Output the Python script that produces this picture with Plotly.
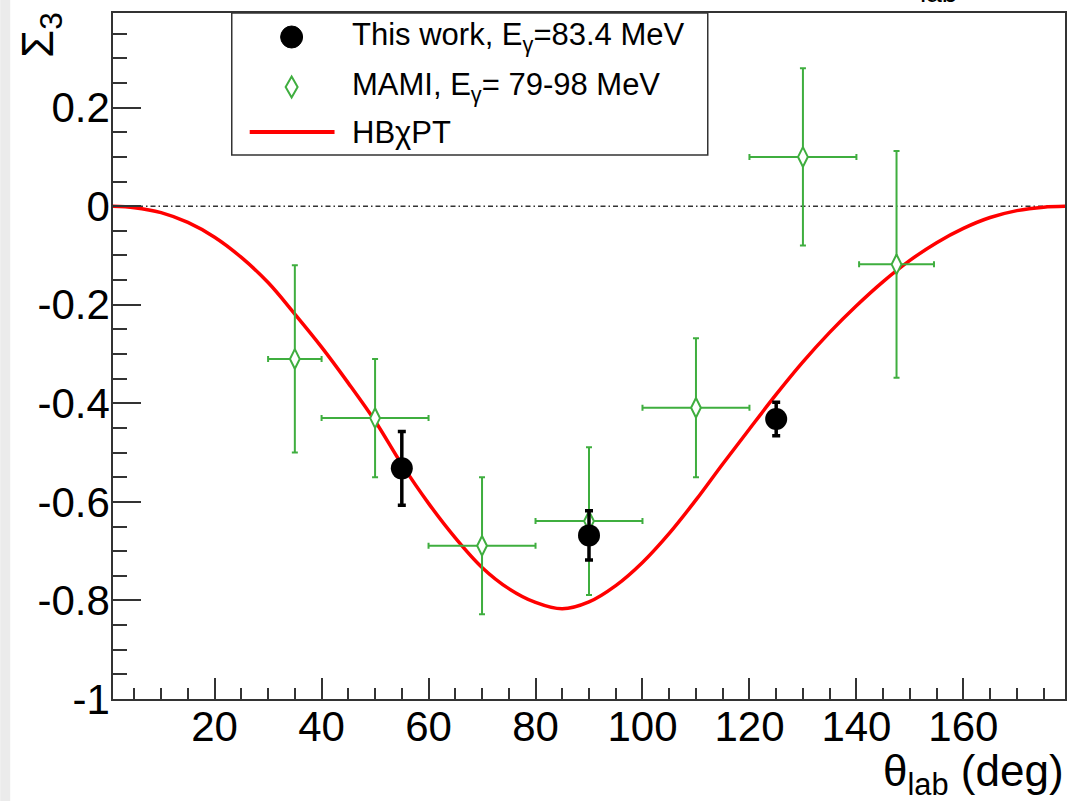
import plotly.graph_objects as go

# ---- data -------------------------------------------------------------
# This work, E_gamma = 83.4 MeV
work_theta = [55, 90, 125]
work_sigma = [-0.532, -0.668, -0.432]
work_err = [0.075, 0.05, 0.034]

# MAMI, E_gamma = 79-98 MeV
mami_theta = [35, 50, 70, 90, 110, 130, 147.5]
mami_sigma = [-0.31, -0.43, -0.689, -0.639, -0.409, 0.10, -0.118]
mami_err_theta = [5, 10, 10, 10, 10, 10, 7]
mami_err_sigma = [0.19, 0.12, 0.139, 0.15, 0.141, 0.18, 0.23]

# HBChPT prediction
theory_theta = [0, 5, 10, 15, 20, 25, 30, 35, 40, 45, 50, 55, 60, 65, 70, 75, 80, 85,
                90, 95, 100, 105, 110, 115, 120, 125, 130, 135, 140, 145, 150, 155,
                160, 165, 170, 175, 180]
theory_sigma = [0.0, -0.003, -0.013, -0.033, -0.063, -0.104, -0.155, -0.219, -0.286,
                -0.359, -0.436, -0.524, -0.603, -0.673, -0.733, -0.776, -0.804, -0.817,
                -0.803, -0.77, -0.723, -0.664, -0.596, -0.523, -0.452, -0.382, -0.316,
                -0.256, -0.202, -0.153, -0.11, -0.074, -0.045, -0.023, -0.009, -0.002, 0.0]

x_ticks = [20, 40, 60, 80, 100, 120, 140, 160]
y_ticks = [-1, -0.8, -0.6, -0.4, -0.2, 0, 0.2]
y_tick_text = ["-1", "-0.8", "-0.6", "-0.4", "-0.2", "0", "0.2"]

# ---- page geometry (pixels) -------------------------------------------
W, H = 1072, 801
L, R, T, B = 113, 5, 13, 102
PW, PH = W - L - R, H - T - B


def px(xp):
    return (xp - L) / PW


def py(yp):
    return (H - B - yp) / PH


FONT = "Liberation Sans, Arial, sans-serif"
GREEN = "#3fae3f"
FRAME = "#333333"

fig = go.Figure()

fig.add_trace(go.Scatter(
    x=theory_theta, y=theory_sigma, mode="lines",
    line=dict(color="#ff0000", width=3.5, shape="spline", smoothing=1.0),
    name="HBχPT", showlegend=False, hoverinfo="skip",
))

fig.add_trace(go.Scatter(
    x=mami_theta, y=mami_sigma, mode="markers",
    marker=dict(symbol="diamond-tall", size=14, color="white",
                line=dict(color=GREEN, width=2)),
    error_x=dict(type="data", array=mami_err_theta, color=GREEN, thickness=2, width=3),
    error_y=dict(type="data", array=mami_err_sigma, color=GREEN, thickness=2, width=3),
    name="MAMI", showlegend=False,
))

fig.add_trace(go.Scatter(
    x=work_theta, y=work_sigma, mode="markers",
    marker=dict(symbol="circle", size=22, color="black"),
    error_y=dict(type="data", array=work_err, color="black", thickness=3.5, width=4),
    name="This work", showlegend=False,
))

shapes = []
# zero reference line
shapes.append(dict(type="line", xref="paper", yref="y", x0=0, x1=1, y0=0, y1=0,
                   line=dict(color="#333333", width=1.5, dash="5px,3px,1.5px,3px"),
                   layer="below"))
# grey strip at the left page edge
shapes.append(dict(type="rect", xref="paper", yref="paper", x0=px(0), x1=px(10),
                   y0=py(H), y1=py(0), fillcolor="#ebebeb", line=dict(width=0), layer="below"))

# legend box
lx0, lx1, ly0, ly1 = 232, 709, 13, 155
shapes.append(dict(type="rect", xref="paper", yref="paper", x0=px(lx0), x1=px(lx1),
                   y0=py(ly1), y1=py(ly0), fillcolor="white",
                   line=dict(color=FRAME, width=1.5)))
# legend symbols
cx, r = 292, 11
shapes.append(dict(type="circle", xref="paper", yref="paper",
                   x0=px(cx - r), x1=px(cx + r), y0=py(37 + r), y1=py(37 - r),
                   fillcolor="black", line=dict(color="black", width=1)))
dx, dy, dcy = 6, 10.5, 87
shapes.append(dict(type="path", xref="paper", yref="paper",
                   path=(f"M {px(cx)},{py(dcy - dy)} L {px(cx + dx)},{py(dcy)} "
                         f"L {px(cx)},{py(dcy + dy)} L {px(cx - dx)},{py(dcy)} Z"),
                   fillcolor="white", line=dict(color=GREEN, width=2)))
shapes.append(dict(type="line", xref="paper", yref="paper",
                   x0=px(250), x1=px(335), y0=py(132), y1=py(132),
                   line=dict(color="#ff0000", width=4)))

annotations = []
legend_rows = [
    ("This work, E<sub>γ</sub>=83.4 MeV", 37),
    ("MAMI, E<sub>γ</sub>= 79-98 MeV", 87),
    ("HBχPT", 132),
]
for text, yc in legend_rows:
    annotations.append(dict(text=text, xref="paper", yref="paper", x=px(350), y=py(yc),
                            xanchor="left", yanchor="middle", showarrow=False,
                            font=dict(family=FONT, size=31, color="black")))

# axis titles
annotations.append(dict(text="θ<sub>lab</sub> (deg)", xref="paper", yref="paper",
                        x=px(1068), y=py(804), xanchor="right", yanchor="bottom",
                        showarrow=False, font=dict(family=FONT, size=44, color="black")))
annotations.append(dict(text="Σ<sub>3</sub>", xref="paper", yref="paper", textangle=-90,
                        x=px(40), y=py(11), xanchor="center", yanchor="top",
                        showarrow=False, font=dict(family=FONT, size=45, color="black")))
# subscript of a title running off the top edge
annotations.append(dict(text="lab", xref="paper", yref="paper", x=px(940), y=py(10),
                        xanchor="center", yanchor="bottom", showarrow=False,
                        font=dict(family=FONT, size=28, color="black")))

axis_common = dict(
    showgrid=False, zeroline=False, showline=True, linecolor=FRAME, linewidth=1.5,
    mirror=True, ticks="inside", tickcolor=FRAME, tickwidth=1.5,
)

fig.update_layout(
    width=W, height=H,
    margin=dict(l=L, r=R, t=T, b=B, pad=0),
    paper_bgcolor="white", plot_bgcolor="white",
    showlegend=False,
    font=dict(family=FONT, color="black"),
    shapes=shapes, annotations=annotations,
    xaxis=dict(range=[1, 179], tickmode="array", tickvals=x_ticks,
               ticktext=[str(v) for v in x_ticks], ticklen=21, ticklabelstandoff=-10,
               tickfont=dict(family=FONT, size=42, color="black"),
               minor=dict(ticks="inside", tickmode="linear", tick0=0, dtick=5,
                          ticklen=11, tickcolor=FRAME, tickwidth=1.5),
               **axis_common),
    yaxis=dict(range=[-1, 0.392], tickmode="array", tickvals=y_ticks,
               ticktext=y_tick_text, ticklen=28, ticklabelstandoff=-7,
               tickfont=dict(family=FONT, size=42, color="black"),
               minor=dict(ticks="inside", tickmode="linear", tick0=0, dtick=0.05,
                          ticklen=14, tickcolor=FRAME, tickwidth=1.5),
               **axis_common),
)

fig.write_html("out.html")
